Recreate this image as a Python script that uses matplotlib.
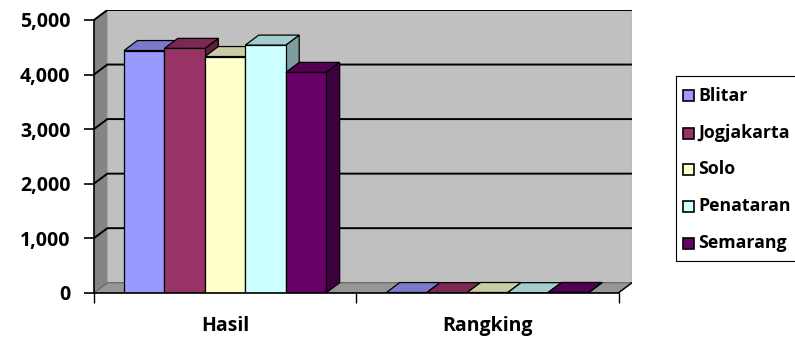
import matplotlib.pyplot as plt
from matplotlib.patches import Polygon, Rectangle
from matplotlib.colors import to_rgb

categories = ['Hasil', 'Rangking']
series = ['Blitar', 'Jogjakarta', 'Solo', 'Penataran', 'Semarang']
hasil = [4440, 4480, 4330, 4540, 4040]
rangking = [3, 2, 4, 1, 5]
colors = ['#9999FF', '#993366', '#FFFFCC', '#CCFFFF', '#660066']
yticks = [0, 1000, 2000, 3000, 4000, 5000]

plt.rcParams['font.family'] = ['Open Sans', 'DejaVu Sans']
plt.rcParams['font.weight'] = 'bold'

W, H = 795, 345
DX, DY = 0.051, 183      # depth of the 3d box in data units
BW = 0.1542              # bar width

def shade(c, f):
    r, g, b = to_rgb(c)
    return (r * f, g * f, b * f)

fig = plt.figure(figsize=(W / 100, H / 100), dpi=100)
ax = fig.add_axes([94 / W, 1 - 292.7 / H, 538 / W, 282.7 / H])
ax.set_xlim(-0.5, 1.5 + DX)
ax.set_ylim(0, 5000 + DY)
ax.patch.set_visible(False)

# walls and floor
ax.add_patch(Polygon([(-0.5, 0), (-0.5 + DX, DY), (-0.5 + DX, 5000 + DY), (-0.5, 5000)],
                     fc='#858585', ec='none', zorder=1))
ax.add_patch(Rectangle((-0.5 + DX, DY), 2, 5000, fc='#c0c0c0', ec='none', zorder=1))
ax.plot([-0.5 + DX] * 2, [DY, 5000 + DY], color='#a8a8a8', lw=0.8, zorder=1.5)
ax.plot([1.5 + DX] * 2, [DY, 5000 + DY], color='#a8a8a8', lw=1, zorder=1.5)
ax.add_patch(Polygon([(-0.5, 0), (1.5, 0), (1.5 + DX, DY), (-0.5 + DX, DY)],
                     fc='#969696', ec='#606060', lw=0.8, zorder=1.6))
for v in yticks[1:]:
    ax.plot([-0.5, -0.5 + DX, 1.5 + DX], [v, v + DY, v + DY], color='black', lw=1.4, zorder=2)
ax.plot([1.5, 1.5 + DX], [0, DY], color='black', lw=1, zorder=2)

# 3d bars, drawn left to right so each front face hides the previous side
z = 3
for ci, vals in enumerate([hasil, rangking]):
    for i, v in enumerate(vals):
        x0 = ci - 0.3855 + i * BW
        ax.add_patch(Polygon([(x0 + BW, 0), (x0 + BW + DX, DY), (x0 + BW + DX, v + DY), (x0 + BW, v)],
                             fc=shade(colors[i], 0.62), ec='black', lw=0.9, zorder=z))
        ax.bar(x0, v, BW, align='edge', color=colors[i], edgecolor='black', lw=0.9, zorder=z + 0.1)
        ax.add_patch(Polygon([(x0, v), (x0 + BW, v), (x0 + BW + DX, v + DY), (x0 + DX, v + DY)],
                             fc=shade(colors[i], 0.8), ec='black', lw=0.9, zorder=z + 0.2))
        z += 1

# axes
for s in ['top', 'right']:
    ax.spines[s].set_visible(False)
ax.spines['left'].set_bounds(0, 5000)
ax.spines['bottom'].set_bounds(-0.5, 1.5)
ax.spines['left'].set_linewidth(1.2)
ax.spines['bottom'].set_linewidth(1.2)
ax.spines['left'].set_zorder(20)
ax.spines['bottom'].set_zorder(20)

ax.set_yticks(yticks, ['{:,}'.format(v) for v in yticks], fontweight='bold')
ax.tick_params(axis='y', length=7, width=1.2, pad=10, labelsize=14)
ax.set_xticks([0, 1], categories, fontweight='bold')
ax.set_xticks([-0.5, 0.5, 1.5], minor=True)
ax.tick_params(axis='x', which='major', length=0, pad=17, labelsize=14)
ax.tick_params(axis='x', which='minor', length=7, width=1)

# legend box
def fx(px):
    return px / W

def fy(py):
    return 1 - py / H

fig.add_artist(Rectangle((fx(676), fy(261)), fx(200), 185 / H, transform=fig.transFigure,
                         fc='white', ec='black', lw=0.8))
rows = [96, 133, 169, 206, 243]
for name, col, yc in zip(series, colors, rows):
    fig.add_artist(Rectangle((fx(683), fy(yc + 5.5)), fx(11), 11 / H, transform=fig.transFigure,
                             fc=col, ec='black', lw=1.2))
    fig.text(fx(698), fy(yc), name, fontsize=12.8, fontweight='bold', va='center', ha='left')

fig.savefig('out.png', dpi=100)
